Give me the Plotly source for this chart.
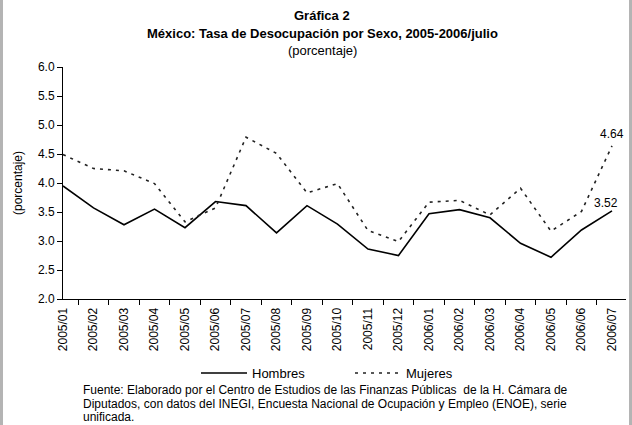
import plotly.graph_objects as go

categories = ["2005/01", "2005/02", "2005/03", "2005/04", "2005/05", "2005/06", "2005/07",
              "2005/08", "2005/09", "2005/10", "2005/11", "2005/12", "2006/01", "2006/02",
              "2006/03", "2006/04", "2006/05", "2006/06", "2006/07"]
hombres = [3.95, 3.57, 3.28, 3.55, 3.23, 3.68, 3.61, 3.14, 3.61, 3.29, 2.86, 2.75,
           3.47, 3.54, 3.40, 2.96, 2.72, 3.19, 3.52]
mujeres = [4.49, 4.25, 4.21, 3.99, 3.33, 3.57, 4.79, 4.51, 3.83, 3.99, 3.18, 2.99,
           3.67, 3.70, 3.45, 3.91, 3.17, 3.51, 4.64]
y_ticks = [2.0, 2.5, 3.0, 3.5, 4.0, 4.5, 5.0, 5.5, 6.0]
source_lines = [
    "Fuente: Elaborado por el Centro de Estudios de las Finanzas Públicas  de la H. Cámara de",
    "Diputados, con datos del INEGI, Encuesta Nacional de Ocupación y Empleo (ENOE), serie",
    "unificada.",
]

FONT = "Liberation Sans, Arial, sans-serif"
W, H = 632, 425
L, R, T, B = 63, 6, 67, 126
PW = W - L - R
PH = H - T - B

def px(x):
    return (x - L) / PW

def py(y):
    return (H - B - y) / PH

fig = go.Figure()
fig.add_trace(go.Scatter(x=categories, y=hombres, mode="lines", name="Hombres",
                         line=dict(color="black", width=1.6)))
fig.add_trace(go.Scatter(x=categories, y=mujeres, mode="lines", name="Mujeres",
                         line=dict(color="#222222", width=1.6, dash="3px,5px")))

fig.add_annotation(x=categories[-1], y=mujeres[-1], text=f"{mujeres[-1]:.2f}",
                   showarrow=False, yanchor="bottom", yshift=3,
                   font=dict(family=FONT, size=12, color="black"))
fig.add_annotation(x=categories[-1], y=hombres[-1], text=f"{hombres[-1]:.2f}",
                   showarrow=False, yanchor="bottom", xanchor="center", xshift=-6, yshift=-1,
                   font=dict(family=FONT, size=12, color="black"))

titles = [("<b>Gráfica 2</b>", 16), ("<b>México: Tasa de Desocupación por Sexo, 2005-2006/julio</b>", 33),
          ("(porcentaje)", 50)]
for txt, yy in titles:
    fig.add_annotation(xref="paper", yref="paper", x=px(322), y=py(yy), text=txt,
                       showarrow=False, xanchor="center", yanchor="middle",
                       font=dict(family=FONT, size=13, color="black"))

for i, line in enumerate(source_lines):
    fig.add_annotation(xref="paper", yref="paper", x=px(81), y=py(390 + 13.5 * i),
                       xanchor="left", yanchor="middle", align="left", showarrow=False,
                       text=line, font=dict(family=FONT, size=12, color="black"))

# side frame lines
for x0 in (0, W - 3):
    fig.add_shape(type="rect", xref="paper", yref="paper", x0=px(x0), x1=px(x0 + 3),
                  y0=py(H), y1=py(0), line=dict(width=0), fillcolor="#b4b4b4", layer="above")

fig.update_layout(
    width=W, height=H,
    margin=dict(l=L, r=R, t=T, b=B, autoexpand=False),
    paper_bgcolor="white", plot_bgcolor="white",
    font=dict(family=FONT, size=12, color="black"),
    showlegend=True,
    legend=dict(orientation="h", x=px(196), y=py(373), xanchor="left", yanchor="middle",
                font=dict(family=FONT, size=13, color="black"), itemwidth=46,
                entrywidth=93, entrywidthmode="pixels", tracegroupgap=0),
    xaxis=dict(type="category", showline=True, linecolor="black", linewidth=1,
               ticks="outside", ticklen=5, tickcolor="black", tickson="boundaries",
               tickangle=-90, showgrid=False, zeroline=False, mirror=False, automargin=False,
               ticklabelstandoff=3, tickfont=dict(family=FONT, size=12)),
    yaxis=dict(range=[2.0, 6.0], tickvals=y_ticks, ticktext=[f"{v:.1f}" for v in y_ticks],
               showline=True, linecolor="black", linewidth=1, ticks="outside", ticklen=5,
               tickcolor="black", showgrid=False, zeroline=False, automargin=False,
               title=dict(text="(porcentaje)", font=dict(family=FONT, size=12), standoff=12),
               tickfont=dict(family=FONT, size=12)),
)

fig.write_html("out.html", config={"displayModeBar": False},
               post_script="document.body.style.margin='0';document.body.style.overflow='hidden';")
